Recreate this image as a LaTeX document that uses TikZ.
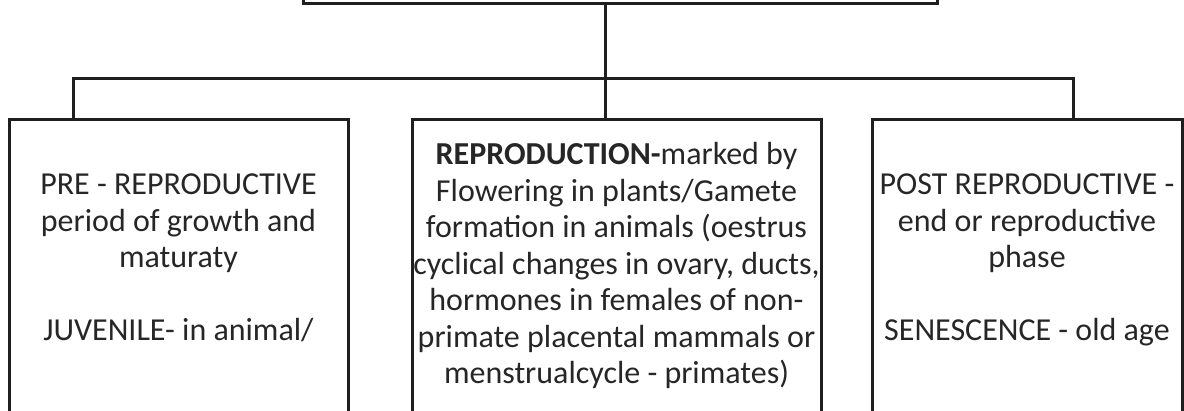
\documentclass[tikz,border=0pt]{standalone}
\usepackage{fontspec}
\setmainfont{Carlito}
\begin{document}
\begin{tikzpicture}[
    x=1pt, y=1pt,
    stagebox/.style={draw=black!88, line width=3pt, minimum height=300pt, anchor=north west, inner sep=0pt, outer sep=0pt},
    stagetext/.style={align=center, anchor=base, inner sep=0pt, text=black!85, font=\fontsize{32}{36.5}\selectfont},
    link/.style={draw=black!88, line width=3pt}
]
    \useasboundingbox (0,0) rectangle (1184,411);
    \clip (0,0) rectangle (1184,411);

    % boxes, cut by the picture's edges
    \node[stagebox, minimum width=634pt, minimum height=80pt, anchor=south west] (life) at (303,407.5) {};
    \node[stagebox, minimum width=339pt] (pre) at (9,291) {};
    \node[stagebox, minimum width=409pt] (repro) at (412,291) {};
    \node[stagebox, minimum width=310pt] (post) at (872,291) {};

    % base = last line of each text
    \node[stagetext] (pretext) at (178.5,70) {PRE - REPRODUCTIVE\\period of growth and\\maturaty\\[36.5pt]JUVENILE- in animal/};
    \node[stagetext] (reprotext) at (616.5,27) {\textbf{REPRODUCTION-}marked by\\Flowering in plants/Gamete\\formation in animals (oestrus\\cyclical changes in ovary, ducts,\\hormones in females of non-\\primate placental mammals or\\menstrualcycle - primates)};
    \node[stagetext] (posttext) at (1027,70) {POST REPRODUCTIVE -\\end or reproductive\\phase\\[36.5pt]SENESCENCE - old age};

    % connectors
    \coordinate (bus) at (605,332);
    \coordinate (busleft) at (73,332);
    \coordinate (busright) at (1073,332);
    \draw[link] (life.south -| bus) -- (repro.north -| bus);
    \draw[link] (pre.north -| busleft) -- (busleft) -- (busright) -- (post.north -| busright);
\end{tikzpicture}
\end{document}
